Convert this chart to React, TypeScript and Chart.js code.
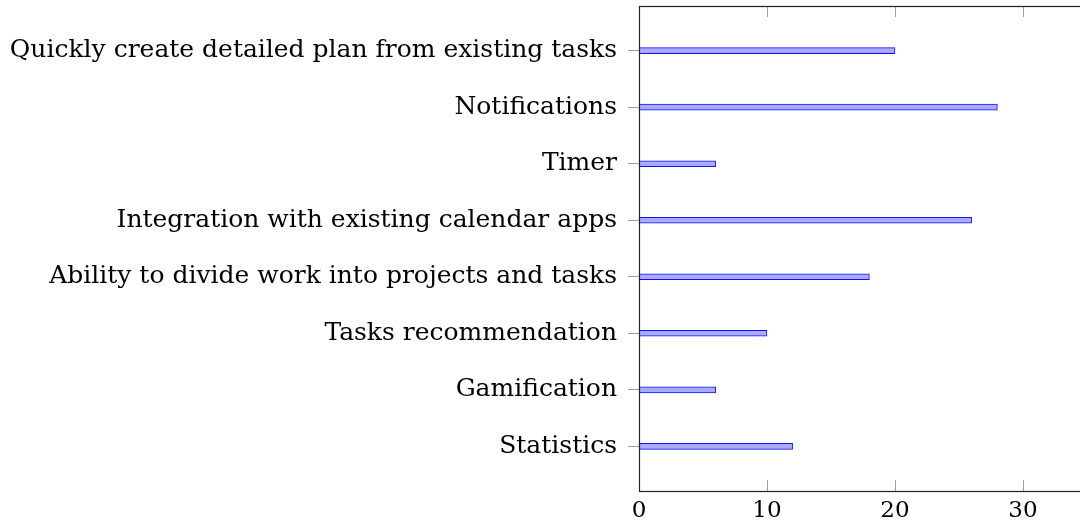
import React, { useEffect, useRef } from "react";
import { Chart, registerables } from "chart.js";

Chart.register(...registerables);

const categories: string[] = [
  "Quickly create detailed plan from existing tasks",
  "Notifications",
  "Timer",
  "Integration with existing calendar apps",
  "Ability to divide work into projects and tasks",
  "Tasks recommendation",
  "Gamification",
  "Statistics",
];
const values: number[] = [20, 28, 6, 26, 18, 10, 6, 12];
const xTicks: number[] = [0, 10, 20, 30];

const FONT = "'DejaVu Serif', serif";

const framePlugin = {
  id: "frameTicks",
  afterDraw(chart: any) {
    const { ctx, chartArea } = chart;
    const { left, right, top, bottom } = chartArea;
    const xs = chart.scales.x;
    ctx.save();
    ctx.strokeStyle = "#a0a0a0";
    ctx.lineWidth = 1;
    xTicks.forEach((v) => {
      const px = Math.round(xs.getPixelForValue(v)) + 0.5;
      if (v === 0) return;
      ctx.beginPath();
      ctx.moveTo(px, bottom);
      ctx.lineTo(px, bottom - 11);
      ctx.moveTo(px, top);
      ctx.lineTo(px, top + 11);
      ctx.stroke();
    });
    ctx.strokeStyle = "#222";
    ctx.lineWidth = 1.2;
    ctx.strokeRect(Math.round(left) + 0.5, Math.round(top) + 0.5, right - left, bottom - top);
    ctx.restore();
  },
};

export default function App() {
  const ref = useRef<HTMLCanvasElement>(null);
  useEffect(() => {
    if (!ref.current) return;
    const chart = new Chart(ref.current, {
      type: "bar",
      data: {
        datasets: [
          {
            data: values.map((v, i) => ({ x: v, y: i })),
            backgroundColor: "#aaaaff",
            borderColor: "#1010ff",
            borderWidth: 1,
            barThickness: 6,
          },
        ],
      },
      options: {
        indexAxis: "y",
        animation: false,
        responsive: false,
        devicePixelRatio: 1,
        layout: { padding: { top: 6, right: 13, left: 0, bottom: 0 } },
        plugins: { legend: { display: false }, tooltip: { enabled: false } },
        scales: {
          x: {
            type: "linear",
            min: 0,
            max: 35,
            offset: false,
            afterBuildTicks: (s: any) => {
              s.ticks = xTicks.map((v) => ({ value: v }));
            },
            afterFit: (s: any) => {
              s.height = 33;
              s.paddingLeft = 0;
              s.paddingRight = 0;
            },
            grid: { display: false, drawTicks: false, offset: false },
            border: { display: false },
            ticks: {
              color: "#000",
              padding: 6,
              maxRotation: 0,
              font: { family: FONT, size: 23 },
            },
          },
          y: {
            type: "linear",
            reverse: true,
            min: -0.79,
            max: 7.79,
            offset: false,
            afterBuildTicks: (s: any) => {
              s.ticks = categories.map((_, i) => ({ value: i }));
            },
            afterFit: (s: any) => {
              s.width = 639;
              s.paddingTop = 0;
              s.paddingBottom = 0;
            },
            grid: {
              display: true,
              offset: false,
              drawOnChartArea: false,
              drawTicks: true,
              tickLength: 11,
              color: "#a0a0a0",
            },
            border: { display: false },
            ticks: {
              color: "#000",
              padding: 11,
              autoSkip: false,
              font: { family: FONT, size: 25 },
              callback: (v: any) => categories[v as number] ?? "",
            },
          },
        },
      },
      plugins: [framePlugin],
    } as any);
    return () => chart.destroy();
  }, []);
  return (
    <div
      style={{
        position: "fixed",
        left: 0,
        top: 0,
        width: 1080,
        height: 524,
        overflow: "hidden",
        background: "#fff",
      }}
    >
      <canvas ref={ref} width={1100} height={524} style={{ display: "block" }} />
    </div>
  );
}
